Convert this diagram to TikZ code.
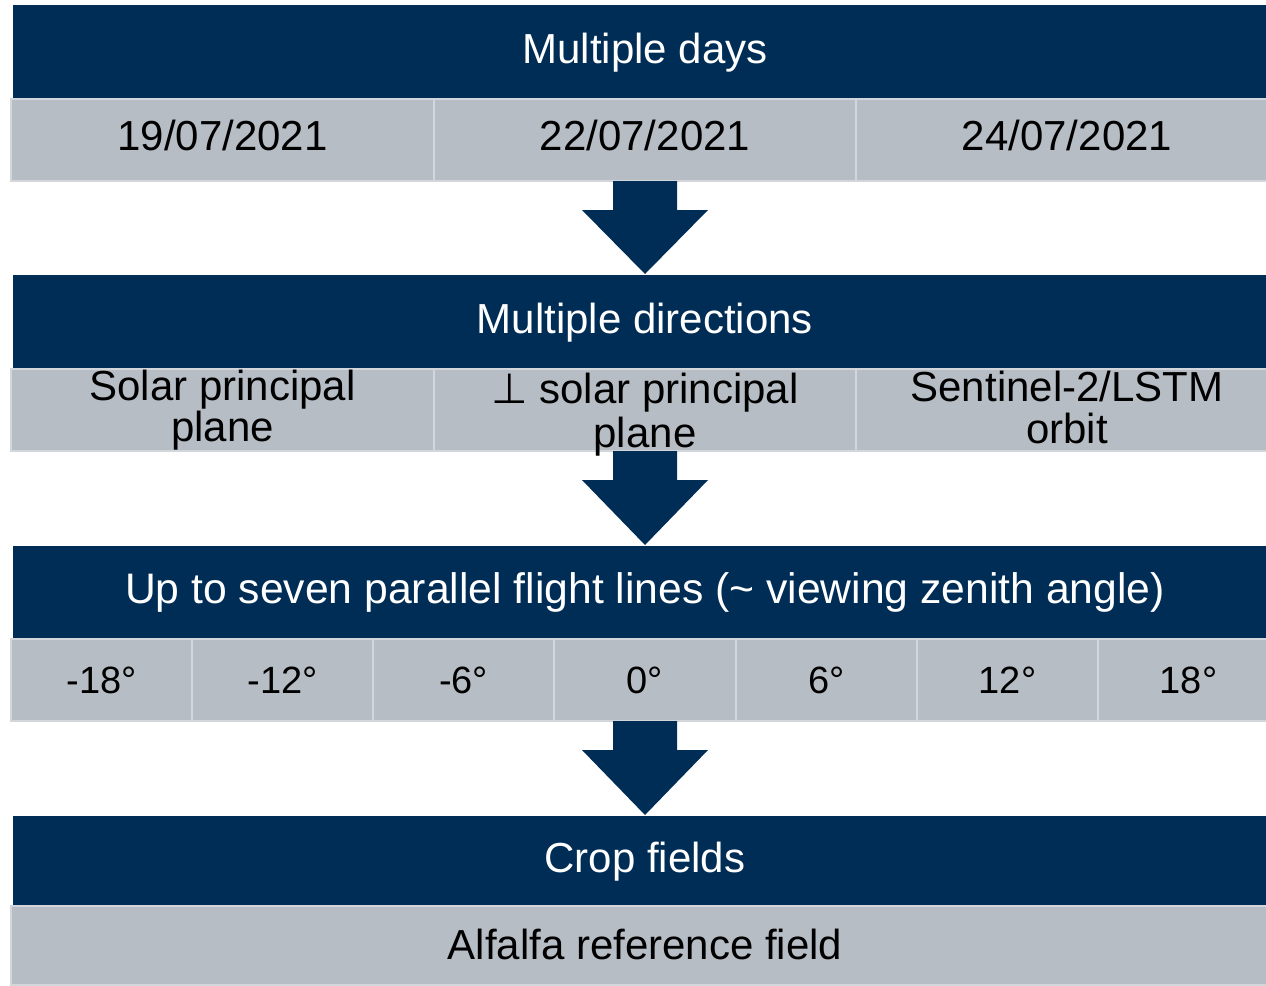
\documentclass[tikz,border=0pt]{standalone}
\usepackage{fontspec}
\setmainfont{Liberation Sans}
\newfontfamily\symfont{DejaVu Sans}
\usetikzlibrary{calc}
\definecolor{navy}{HTML}{002D56}
\definecolor{cellgray}{HTML}{B7BDC5}
\definecolor{cellrule}{HTML}{D3D6DA}

\begin{document}
\begin{tikzpicture}[x=0.75pt,y=-0.75pt,
  box/.style 2 args={minimum width=#1*0.75pt, minimum height=#2*0.75pt},
  textbox/.style 2 args={text height=#1pt, text depth=#2pt},
  header/.style={fill=navy, text=white, inner sep=0pt, outer sep=0pt, anchor=north west,
    font=\fontsize{31.5}{33}\selectfont, textbox={24}{6.3}},
  cell/.style={fill=cellgray, draw=cellrule, line width=1.5pt, inner sep=0pt, outer sep=0pt,
    anchor=north west, text=black, align=center, font=\fontsize{31.5}{31.1}\selectfont,
    textbox={22}{7}},
  twoline/.style={cell, textbox={54}{6.4}},
  smallcell/.style={cell, font=\fontsize{28.5}{32}\selectfont, textbox={25.5}{6}},
  blockarrow/.style={fill=navy}]

\clip (0,0) rectangle (1266,985);
\fill[white] (0,0) rectangle (1266,985);

% --- stage 1: days
\node[header, box={1264}{93}] (hdays) at (13,5) {Multiple days};
\node[cell, box={423}{82}] (d1) at (11,99)  {19/07/2021};
\node[cell, box={422}{82}] (d2) at (434,99) {22/07/2021};
\node[cell, box={422}{82}] (d3) at (856,99) {24/07/2021};

% --- stage 2: directions
\node[header, box={1264}{93}] (hdir) at (13,275) {Multiple directions};
\node[twoline, box={423}{82}] (p1) at (11,369)  {Solar principal\\plane};
\node[twoline, box={422}{82}, font=\fontsize{31.5}{33}\selectfont, textbox={58}{2.5}]
  (p2) at (434,369) {{\symfont ⊥} solar principal\\plane};
\node[twoline, box={422}{82}, textbox={55}{5}] (p3) at (856,369) {Sentinel-2/LSTM\\orbit};

% --- stage 3: flight lines
\node[header, box={1264}{92}, font=\fontsize{32}{33}\selectfont, textbox={24}{7}]
  (hlines) at (13,546) {Up to seven parallel flight lines (\textasciitilde{} viewing zenith angle)};
\node[smallcell, box={181}{82}] (a1) at (11,639)   {-18°};
\node[smallcell, box={181}{82}] (a2) at (192,639)  {-12°};
\node[smallcell, box={181}{82}] (a3) at (373,639)  {-6°};
\node[smallcell, box={182}{82}] (a4) at (554,639)  {0°};
\node[smallcell, box={181}{82}] (a5) at (736,639)  {6°};
\node[smallcell, box={181}{82}] (a6) at (917,639)  {12°};
\node[smallcell, box={181}{82}] (a7) at (1098,639) {18°};

% --- stage 4: fields
\node[header, box={1264}{89}] (hcrop) at (13,816) {Crop fields};
\node[cell, box={1268}{79}, textbox={26}{5.3}] (f1) at (11,906) {Alfalfa reference field};

% --- block arrows between stages
\foreach \src/\dst in {d2/hdir, p2/hlines, a4/hcrop}{
  \fill[blockarrow]
    ($(\src.south)+(-32,0)$) -- ($(\src.south)+(32,0)$) --
    ($(\src.south)+(32,29)$) -- ($(\src.south)+(63,29)$) --
    ($(\dst.north)+(0,-1)$) --
    ($(\src.south)+(-63,29)$) -- ($(\src.south)+(-32,29)$) -- cycle;
}
\end{tikzpicture}
\end{document}
